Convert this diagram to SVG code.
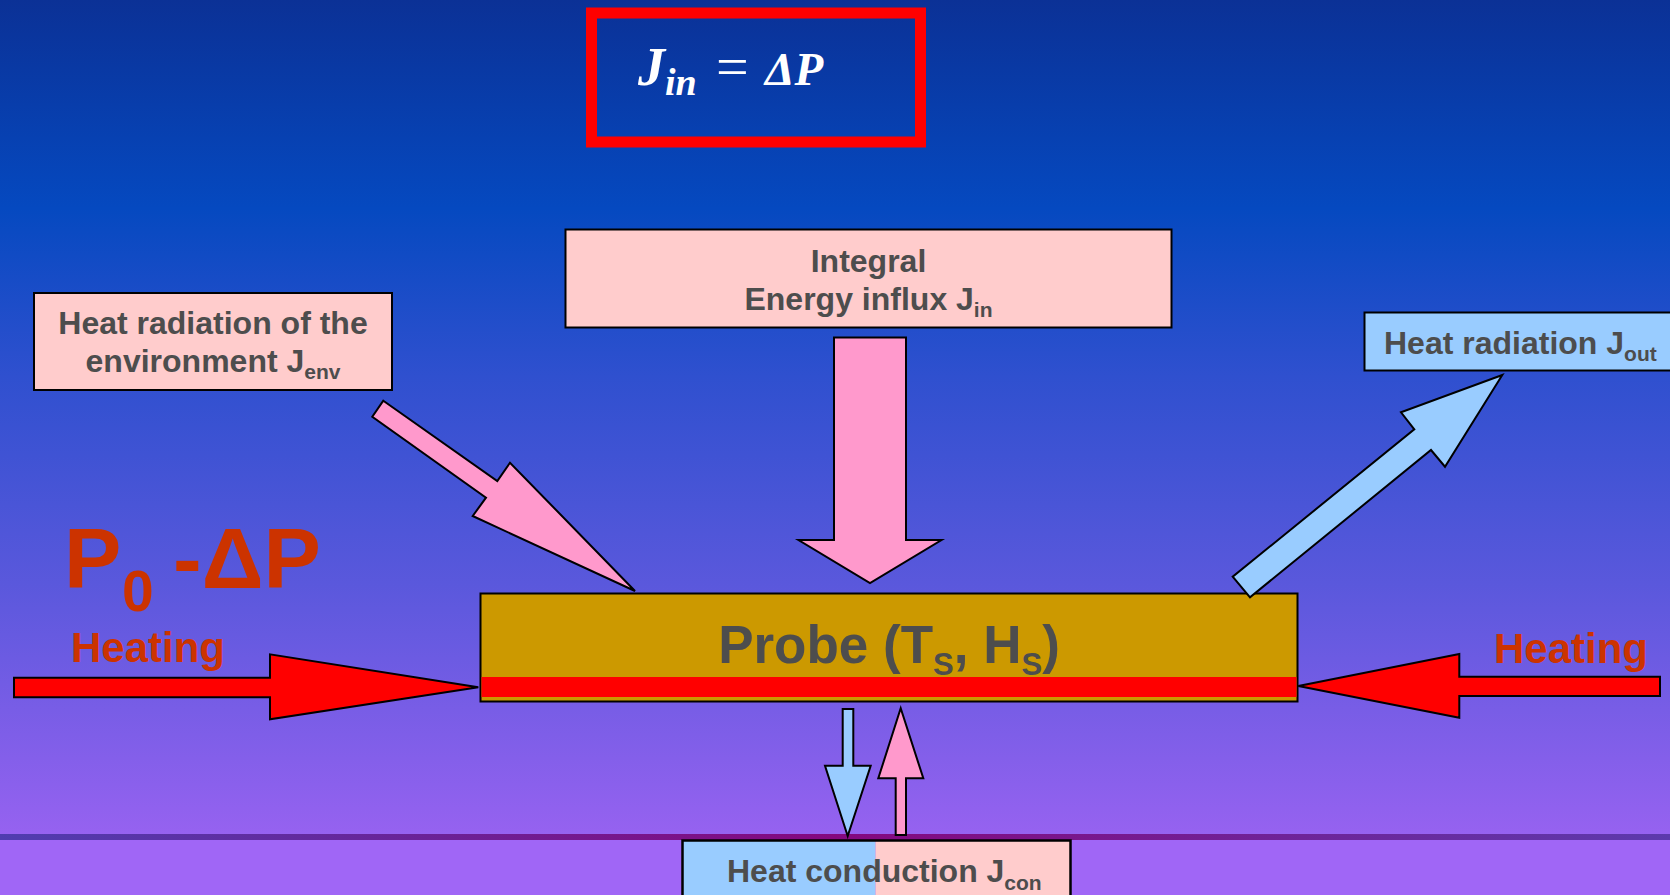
<svg xmlns="http://www.w3.org/2000/svg" width="1670" height="895" viewBox="0 0 1670 895">
  <defs>
    <linearGradient id="bg" x1="0" y1="0" x2="0" y2="834" gradientUnits="userSpaceOnUse">
      <stop offset="0" stop-color="#0b3196"/>
      <stop offset="0.25" stop-color="#0549c0"/>
      <stop offset="0.45" stop-color="#2f50cf"/>
      <stop offset="0.7" stop-color="#5a58dc"/>
      <stop offset="1" stop-color="#9662f0"/>
    </linearGradient>
    <linearGradient id="band" x1="0" y1="0" x2="1" y2="0">
      <stop offset="0" stop-color="#4f3db0"/>
      <stop offset="0.5" stop-color="#85087f"/>
      <stop offset="1" stop-color="#5c3aad"/>
    </linearGradient>
    <style>
      .box { stroke: #000; stroke-width: 2; }
      .pink { fill: #ffcccc; }
      .blue { fill: #99ccff; }
      .lbl { font-family: "Liberation Sans", Arial, sans-serif; font-weight: bold; fill: #4d4d4d; }
      .red { font-family: "Liberation Sans", Arial, sans-serif; font-weight: bold; fill: #cc3300; }
      .arrow { stroke: #000; stroke-width: 2; stroke-linejoin: miter; }
      .apink { fill: #ff99cc; }
      .ablue { fill: #99ccff; }
      .ared { fill: #ff0000; }
    </style>
  </defs>

  <rect x="0" y="0" width="1670" height="834" fill="url(#bg)"/>
  <rect x="0" y="840" width="1670" height="55" fill="#a066f6"/>
  <rect x="0" y="834" width="1670" height="6" fill="url(#band)"/>

  <g id="formula">
    <rect x="591.5" y="13" width="329" height="129" fill="none" stroke="#ff0000" stroke-width="11"/>
    <text font-family="Liberation Serif, 'DejaVu Serif', serif" font-weight="bold" fill="#ffffff" font-size="47" y="85">
      <tspan x="638" font-size="54" font-style="italic">J</tspan><tspan x="665" y="95" font-size="38" font-style="italic">in</tspan><tspan x="716" y="86" font-size="58" font-weight="normal">=</tspan><tspan x="765" y="85" font-style="italic">ΔP</tspan>
    </text>
  </g>

  <g id="env-box">
    <rect class="box pink" x="34" y="293" width="358" height="97"/>
    <text class="lbl" font-size="32" x="213" y="334" text-anchor="middle">Heat radiation of the</text>
    <text class="lbl" font-size="32" x="213" y="372" text-anchor="middle">environment J<tspan font-size="21" dy="7">env</tspan></text>
  </g>

  <g id="integral-box">
    <rect class="box pink" x="565.5" y="229.5" width="606" height="98"/>
    <text class="lbl" font-size="32" x="868.5" y="271.5" text-anchor="middle">Integral</text>
    <text class="lbl" font-size="32" x="868.5" y="309.5" text-anchor="middle">Energy influx J<tspan font-size="21" dy="7">in</tspan></text>
  </g>

  <g id="out-box">
    <rect class="box blue" x="1364.5" y="312.5" width="320" height="58"/>
    <text class="lbl" font-size="32" x="1384" y="354">Heat radiation J<tspan font-size="21" dy="7">out</tspan></text>
  </g>

  <g id="probe">
    <rect class="box" x="480.5" y="593.5" width="817" height="108" fill="#cc9900"/>
    <rect x="481.5" y="677" width="815" height="20" fill="#ff0000"/>
    <text class="lbl" font-size="53" x="889" y="662.5" text-anchor="middle">Probe (T<tspan font-size="31" dy="12">S</tspan><tspan dy="-12">, H</tspan><tspan font-size="31" dy="12">S</tspan><tspan dy="-12">)</tspan></text>
  </g>

  <g id="conduction-box">
    <rect x="682.5" y="840.5" width="193" height="60" fill="#99ccff"/>
    <rect x="875.5" y="840.5" width="195" height="60" fill="#ffcccc"/>
    <rect x="682.5" y="840.5" width="388" height="60" fill="none" stroke="#000" stroke-width="2.5"/>
    <text class="lbl" font-size="32" x="727" y="881.5">Heat conduction J<tspan font-size="21" dy="8">con</tspan></text>
  </g>

  <g id="p0-label">
    <text class="red" font-size="86" x="64" y="588">P</text>
    <text class="red" font-size="57" x="122" y="611">0</text>
    <text class="red" font-size="86" x="173" y="588">-ΔP</text>
  </g>

  <g id="heating-left">
    <text class="red" font-size="42" x="71" y="662">Heating</text>
  </g>

  <g id="heating-right">
    <text class="red" font-size="42" x="1494" y="663">Heating</text>
  </g>

  <g id="connectors">
    <polygon class="arrow apink" points="834,337.5 906,337.5 906,540 941.5,540 870,583 798.5,540 834,540"/>
    <polygon class="arrow apink" points="383.3,400.7 497.3,481 510,462.7 635,591 472.7,516 486,497.7 372.3,416.7"/>
    <polygon class="arrow ablue" points="1250,597.3 1232.7,576.7 1414.3,429.3 1401,412.3 1502.3,375 1445,466.7 1431,450"/>
    <polygon class="arrow ared" points="14,677.7 270,677.7 270,654.3 478.3,687.3 270,719.3 270,697.3 14,697.3"/>
    <polygon class="arrow ared" points="1298.3,686 1459.3,654 1459.3,676.7 1660,676.7 1660,696 1459.3,696 1459.3,717.7"/>
    <polygon class="arrow ablue" points="842.7,709 853.3,709 853.3,765.7 870.7,765.7 847.7,836 825,765.7 842.7,765.7"/>
    <polygon class="arrow apink" points="895.7,835 906,835 906,778.3 923.3,778.3 900.7,708.3 878.3,778.3 895.7,778.3"/>
  </g>
</svg>
